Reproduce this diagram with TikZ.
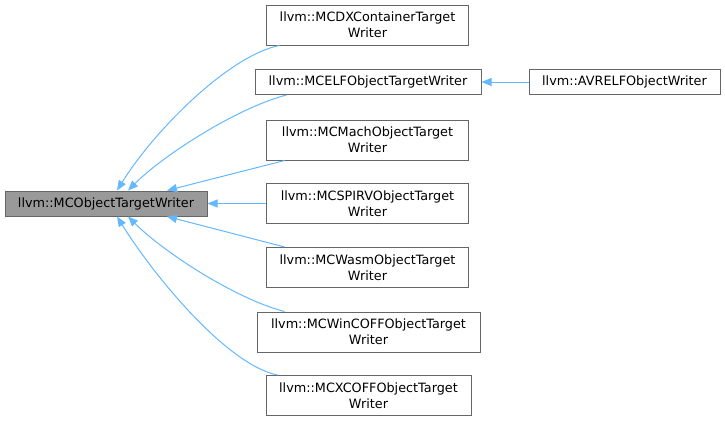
\documentclass[tikz,border=0pt]{standalone}
\usepackage{fontspec}
\setmainfont{DejaVu Sans}
\usetikzlibrary{arrows.meta}

\definecolor{edgeblue}{HTML}{63B8FF}
\definecolor{boxline}{HTML}{666666}
\definecolor{basefill}{HTML}{999999}

\tikzset{
  cls/.style={draw=boxline, line width=0.75pt, fill=white, align=center,
    inner sep=0pt, font=\fontsize{9.6}{12}\selectfont},
  twoline/.style={cls, minimum height=30pt},
  oneline/.style={cls, minimum height=18.75pt},
  inherit/.style={draw=edgeblue, line width=0.75pt, {Triangle[length=7.5pt,width=6pt]}-}
}

\begin{document}
\begin{tikzpicture}[x=0.75pt, y=-0.75pt]

    \useasboundingbox (0,0) rectangle (725,421);

    % Base class
    \node[oneline, fill=basefill, minimum width=151.5pt] (base) at (106,203.5) {llvm::MCObjectTargetWriter};

    % Derived classes
    \node[twoline, minimum width=151.5pt] (dx) at (367.5,25) {llvm::MCDXContainerTarget\\Writer};
    \node[oneline, minimum width=169.5pt] (elf) at (368,82) {llvm::MCELFObjectTargetWriter};
    \node[twoline, minimum width=151.5pt] (mach) at (367.5,140) {llvm::MCMachObjectTarget\\Writer};
    \node[twoline, minimum width=151.5pt] (spirv) at (367.5,203.5) {llvm::MCSPIRVObjectTarget\\Writer};
    \node[twoline, minimum width=151.5pt] (wasm) at (367.5,267.5) {llvm::MCWasmObjectTarget\\Writer};
    \node[twoline, minimum width=167.25pt] (wincoff) at (368.5,332) {llvm::MCWinCOFFObjectTarget\\Writer};
    \node[twoline, minimum width=153.75pt] (xcoff) at (368.5,395.5) {llvm::MCXCOFFObjectTarget\\Writer};

    % Second level
    \node[oneline, minimum width=143.25pt] (avr) at (624.5,82) {llvm::AVRELFObjectWriter};

    % Inheritance arrows
    \draw[inherit] ([xshift=8.25pt]base.north) .. controls +(38,-61) and +(-50,10) .. ([xshift=10pt]dx.south west);
    \draw[inherit] ([xshift=16.5pt]base.north) .. controls +(35,-35) and +(-50,13) .. ([xshift=24pt]elf.south west);
    \draw[inherit] ([xshift=45.75pt]base.north) -- ([xshift=14pt]mach.south west);
    \draw[inherit] (base.east) -- (spirv.west);
    \draw[inherit] ([xshift=45.75pt]base.south) -- ([xshift=14pt]wasm.north west);
    \draw[inherit] ([xshift=16.5pt]base.south) .. controls +(35,35) and +(-50,-13) .. ([xshift=21pt]wincoff.north west);
    \draw[inherit] ([xshift=8.25pt]base.south) .. controls +(38,61) and +(-50,-10) .. ([xshift=9pt]xcoff.north west);
    \draw[inherit] (elf.east) -- (avr.west);

\end{tikzpicture}
\end{document}
